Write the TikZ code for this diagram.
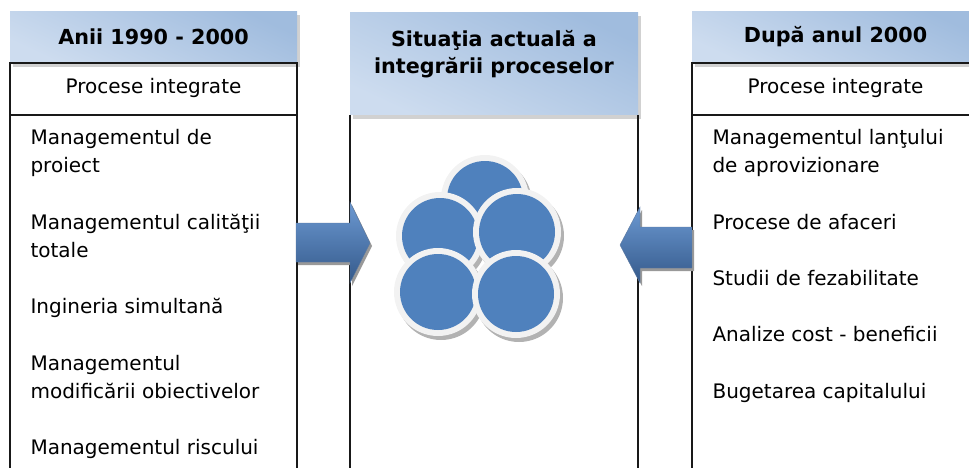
\documentclass[tikz,border=0pt]{standalone}
\usepackage{fontspec}
\setmainfont{DejaVu Sans}
\usetikzlibrary{shadings}

\definecolor{hdrdark}{RGB}{160,188,222}
\definecolor{hdrlight}{RGB}{236,242,249}
\definecolor{hdrmid}{RGB}{205,220,239}
\definecolor{ballblue}{RGB}{79,129,189}
\definecolor{arrtop}{RGB}{108,153,210}
\definecolor{arrmid}{RGB}{79,129,189}
\definecolor{arrbot}{RGB}{52,89,138}
\definecolor{ringwhite}{RGB}{242,242,242}

\tikzset{
  frame/.style={draw=black!90, line width=1.6pt},
  hdrshade/.style={top color=hdrdark, middle color=hdrlight, bottom color=hdrmid, shading angle=-25},
  hdrshadow/.style={fill=black!30, opacity=0.6},
  hdrtext/.style={font=\bfseries\fontsize{20.7}{28}\selectfont, align=center},
  itemtext/.style={font=\fontsize{20}{28}\selectfont, anchor=mid west, align=left},
  subtext/.style={font=\fontsize{20}{28}\selectfont},
  arrowbody/.style={top color=arrtop, middle color=arrmid, bottom color=arrbot, draw=arrbot!80, line width=0.4pt},
  ballshadow/.style={fill=black!30},
  ballring/.style={fill=ringwhite},
  ballcore/.style={fill=ballblue},
}

% one ball of the cluster: soft shadow, white rim, blue core
\newcommand{\ball}[2]{%
  \fill[ballshadow] (#1+3,#2+4) circle (44);
  \fill[ballring] (#1,#2) circle (44);
  \fill[ballcore] (#1,#2) circle (38);
}

\begin{document}
\begin{tikzpicture}[x=1pt,y=-1pt]
\useasboundingbox (0,0) rectangle (969,468);
\begin{scope}
\clip (0,0) rectangle (969,468);

% ---- left column: Anii 1990 - 2000
\fill[hdrshadow] (13,15) rectangle (300,67);
\shade[hdrshade] (10,12) rectangle (297,63);
\node[hdrtext] (lhead) at (153.5,37) {Anii 1990 - 2000};
\draw[frame] (10,480) -- (10,63) -- (297,63) -- (297,480);
\draw[frame] (10,115) -- (297,115);
\node[subtext] (lsub) at (153.5,88) {Procese integrate};
\node[itemtext] (l1) at (27,142) {Managementul de};
\node[itemtext] (l1b) at (27,170) {proiect};
\node[itemtext] (l2) at (27,227) {Managementul calităţii};
\node[itemtext] (l2b) at (27,255) {totale};
\node[itemtext] (l3) at (27,311) {Ingineria simultană};
\node[itemtext] (l4) at (27,368) {Managementul};
\node[itemtext] (l4b) at (27,396) {modificării obiectivelor};
\node[itemtext] (l5) at (27,452) {Managementul riscului};

% ---- middle column
\fill[hdrshadow] (353,16) rectangle (641,119);
\shade[hdrshade] (350,13) rectangle (638,115);
\node[hdrtext] (mhead1) at (494,40) {Situaţia actuală a};
\node[hdrtext] (mhead2) at (494,68) {integrării proceselor};
\draw[frame] (350,115) -- (350,480);
\draw[frame] (638,115) -- (638,480);

% ---- right column: După anul 2000
\fill[hdrshadow] (695,15) rectangle (985,67);
\shade[hdrshade] (692,12) rectangle (979,63);
\node[hdrtext] (rhead) at (835.5,37) {După anul 2000};
\draw[frame] (692,480) -- (692,63) -- (979,63) -- (979,480);
\draw[frame] (692,115) -- (979,115);
\node[subtext] (rsub) at (835.5,88) {Procese integrate};
\node[itemtext] (r1) at (709,142) {Managementul lanţului};
\node[itemtext] (r1b) at (709,170) {de aprovizionare};
\node[itemtext] (r2) at (709,227) {Procese de afaceri};
\node[itemtext] (r3) at (709,283) {Studii de fezabilitate};
\node[itemtext] (r4) at (709,339) {Analize cost - beneficii};
\node[itemtext] (r5) at (709,396) {Bugetarea capitalului};

% ---- block arrows pointing to the middle column
\fill[black!40] (298,226) -- (352,226) -- (352,205) -- (372,246) -- (352,286) -- (352,265) -- (298,265) -- cycle;
\shade[arrowbody] (296,223) -- (350,223) -- (350,202) -- (370,243) -- (350,283) -- (350,262) -- (296,262) -- cycle;

\fill[black!40] (694,230) -- (642,230) -- (642,210) -- (622,248) -- (642,286) -- (642,271) -- (694,271) -- cycle;
\shade[arrowbody] (692,227) -- (640,227) -- (640,207) -- (620,245) -- (640,283) -- (640,268) -- (692,268) -- cycle;

% ---- cluster of process balls
\ball{485}{199}
\ball{440}{236}
\ball{517}{232}
\ball{438}{292}
\ball{516}{294}
\end{scope}
\end{tikzpicture}
\end{document}
